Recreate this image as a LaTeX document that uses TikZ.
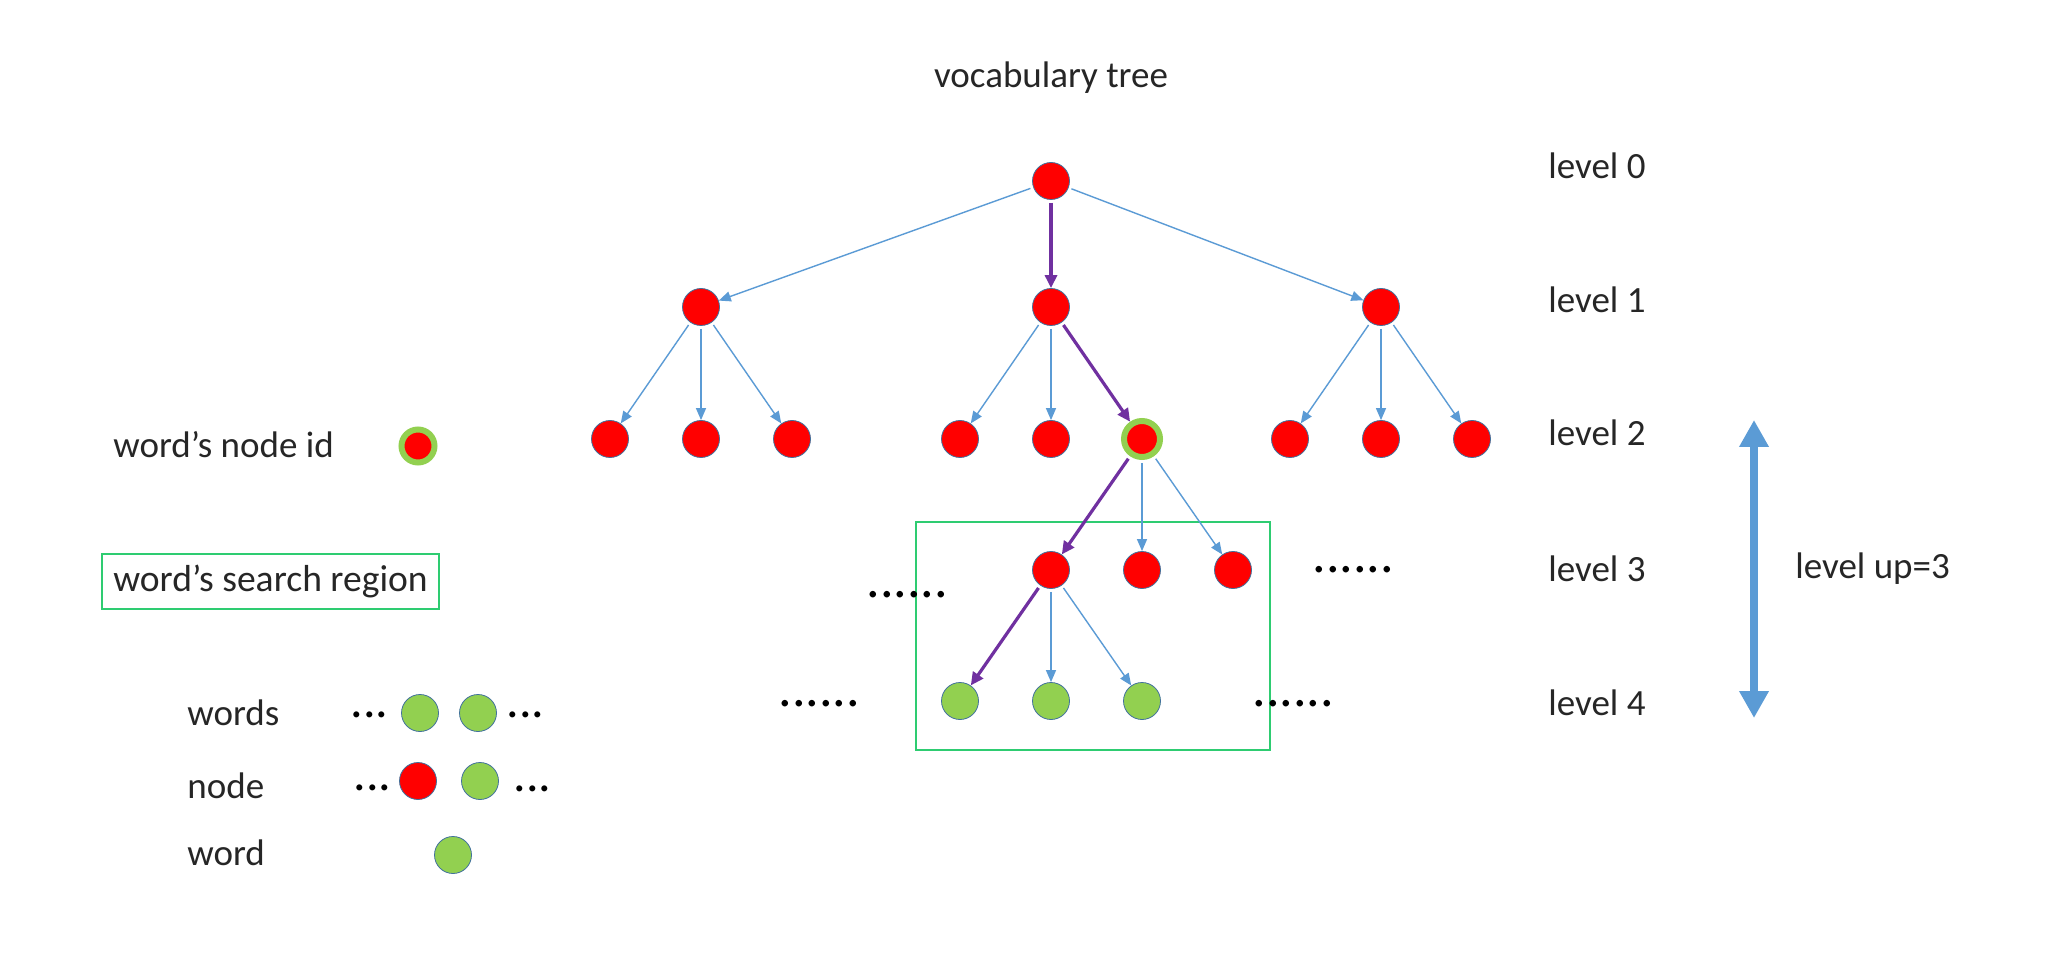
\documentclass[tikz,border=0pt]{standalone}
\usepackage{fontspec}
\setmainfont{Carlito}
\usetikzlibrary{arrows.meta}
\definecolor{nodered}{HTML}{FF0000}
\definecolor{nodegreen}{HTML}{92D050}
\definecolor{edgeblue}{HTML}{5B9BD5}
\definecolor{pathpurple}{HTML}{7030A0}
\definecolor{boxgreen}{HTML}{2ECC71}
\definecolor{rim}{HTML}{41719C}
\definecolor{txt}{HTML}{262626}
\begin{document}
\begin{tikzpicture}[x=0.5pt,y=-0.5pt,
  rn/.style={circle,fill=nodered,draw=rim,line width=0.4pt,minimum size=18.5pt,inner sep=0pt},
  gn/.style={circle,fill=nodegreen,draw=rim,line width=0.4pt,minimum size=18.5pt,inner sep=0pt},
  hn/.style={circle,fill=nodered,draw=nodegreen,line width=3pt,minimum size=18pt,inner sep=0pt},
  lbl/.style={font=\fontsize{18.5}{22}\selectfont,text=txt,anchor=base west,inner sep=0pt},
  dotsA/.style={font=\fontsize{27}{30}\selectfont,text=black,anchor=base west,inner sep=0pt},
  dotsB/.style={font=\fontsize{25}{30}\selectfont,text=black,anchor=base west,inner sep=0pt},
  be/.style={draw=edgeblue,line width=0.7pt,shorten <=1.5pt,-{Triangle[length=6pt,width=5pt]}},
  pe/.style={draw=pathpurple,line width=1.6pt,shorten <=1.5pt,-{Triangle[length=6.5pt,width=6pt]}},
  region/.style={draw=boxgreen,line width=1pt}
]
\useasboundingbox[fill=white] (0,0) rectangle (2054,956);

% title
\node[font=\fontsize{18.5}{22}\selectfont,text=txt,anchor=base,inner sep=0pt] (title) at (1051,88) {vocabulary tree};

% search region frame
\draw[region] (916,522) rectangle (1270,750);

% tree nodes
\node[rn] (r) at (1051,181) {};
\node[rn] (a) at (701,307) {};
\node[rn] (b) at (1051,307) {};
\node[rn] (c) at (1381,307) {};
\node[rn] (a1) at (610,439) {};
\node[rn] (a2) at (701,439) {};
\node[rn] (a3) at (792,439) {};
\node[rn] (b1) at (960,439) {};
\node[rn] (b2) at (1051,439) {};
\node[hn] (b3) at (1142,439) {};
\node[rn] (c1) at (1290,439) {};
\node[rn] (c2) at (1381,439) {};
\node[rn] (c3) at (1472,439) {};
\node[rn] (d1) at (1051,570) {};
\node[rn] (d2) at (1142,570) {};
\node[rn] (d3) at (1233,570) {};
\node[gn] (e1) at (960,701) {};
\node[gn] (e2) at (1051,701) {};
\node[gn] (e3) at (1142,701) {};

% edges
\draw[be] (r) -- (a);
\draw[pe] (r) -- (b);
\draw[be] (r) -- (c);
\draw[be] (a) -- (a1);
\draw[be] (a) -- (a2);
\draw[be] (a) -- (a3);
\draw[be] (b) -- (b1);
\draw[be] (b) -- (b2);
\draw[pe] (b) -- (b3);
\draw[be] (c) -- (c1);
\draw[be] (c) -- (c2);
\draw[be] (c) -- (c3);
\draw[pe] (b3) -- (d1);
\draw[be] (b3) -- (d2);
\draw[be] (b3) -- (d3);
\draw[pe] (d1) -- (e1);
\draw[be] (d1) -- (e2);
\draw[be] (d1) -- (e3);

% ellipses in tree
\node[dotsA] (dl3) at (866,597) {......};
\node[dotsA] (dr3) at (1312,572) {......};
\node[dotsA] (dl4) at (778,706) {......};
\node[dotsA] (dr4) at (1252,706) {......};

% level labels
\node[lbl] (l0) at (1548,179) {level 0};
\node[lbl] (l1) at (1548,313) {level 1};
\node[lbl] (l2) at (1548,446) {level 2};
\node[lbl] (l3) at (1548,581) {level 3};
\node[lbl] (l4) at (1548,715) {level 4};

% level up arrow
\coordinate (up) at (1754,420);
\coordinate (dn) at (1754,718);
\draw[draw=edgeblue,line width=4pt,{Triangle[length=13.5pt,width=14pt]}-{Triangle[length=13.5pt,width=14pt]}] (up) -- (dn);
\node[lbl] (lu) at (1795,578) {level up=3};

% legend
\node[lbl] (kid) at (113,458) {word’s node id};
\node[hn,minimum size=16.5pt] (kidn) at (418,446) {};
\node[draw=boxgreen,line width=1pt,minimum width=168.5pt,minimum height=27.5pt,inner sep=0pt,
      font=\fontsize{18.8}{22}\selectfont,text=txt] (ksr) at (270.5,581.5) {word’s search region};

\node[lbl] (kws) at (187,725) {words};
\node[dotsB] (kwsd1) at (350,717) {...};
\node[gn] (kws1) at (420,713) {};
\node[gn] (kws2) at (478,713) {};
\node[dotsB] (kwsd2) at (506,717) {...};

\node[lbl] (knd) at (187,798) {node};
\node[dotsB] (kndd1) at (353,790) {...};
\node[rn] (knd1) at (418,781) {};
\node[gn] (knd2) at (480,781) {};
\node[dotsB] (kndd2) at (513,791) {...};

\node[lbl] (kw) at (187,865) {word};
\node[gn] (kw1) at (453,855) {};
\end{tikzpicture}
\end{document}
